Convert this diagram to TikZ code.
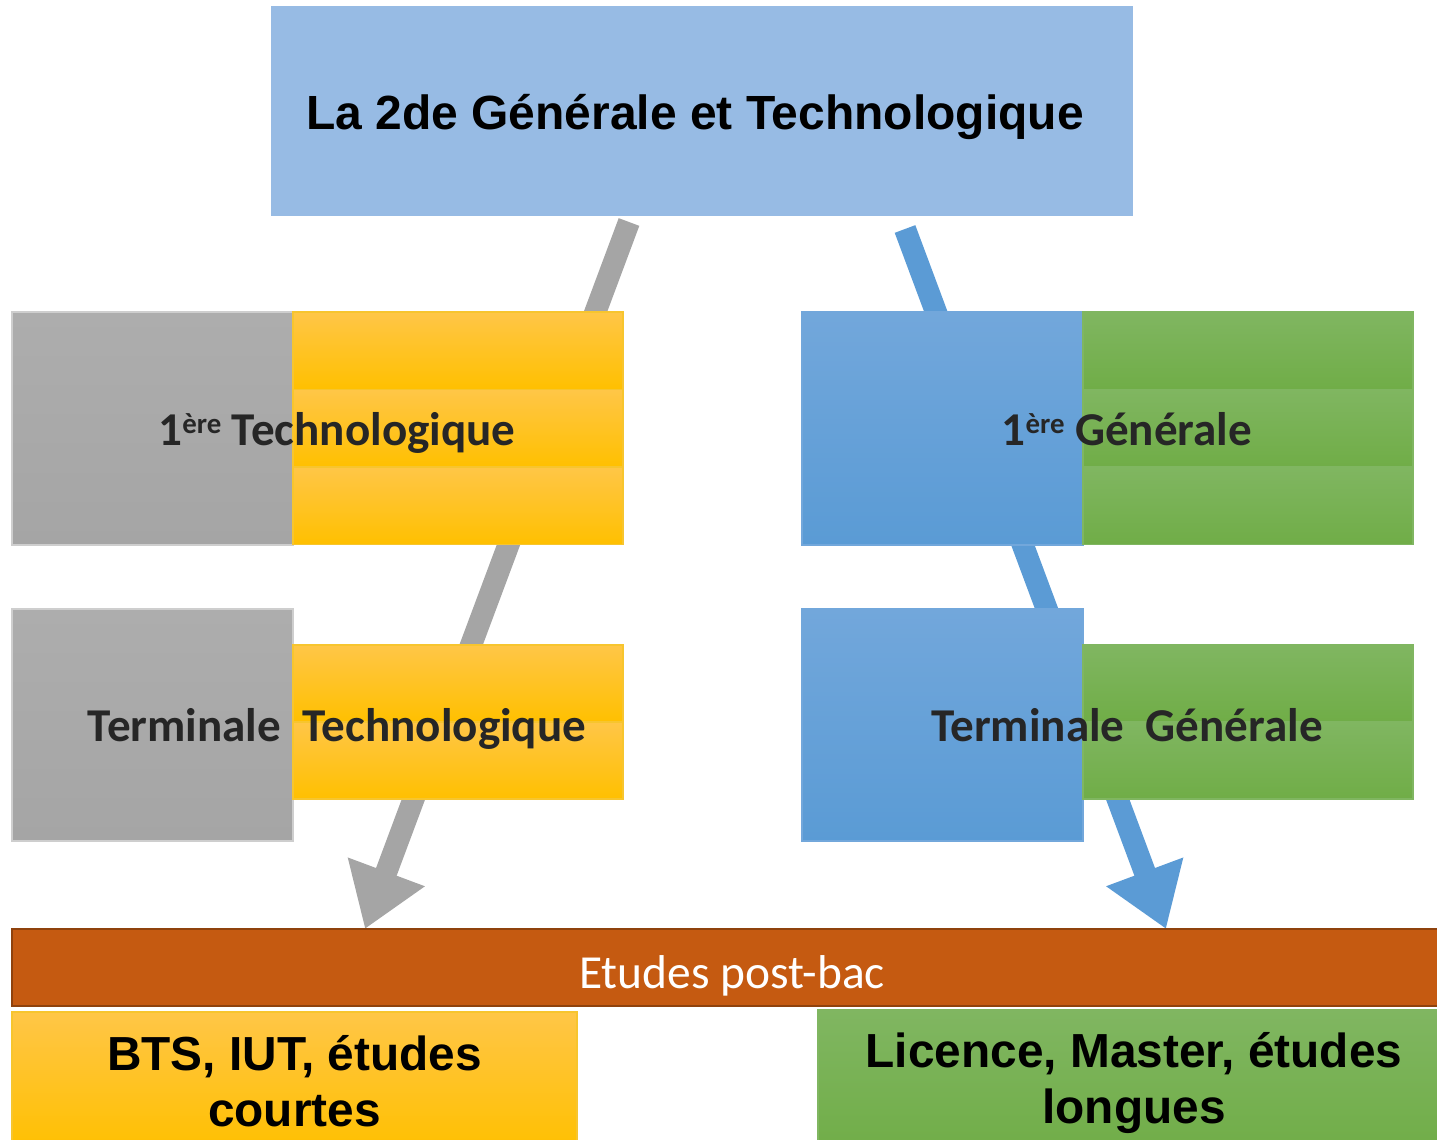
\documentclass[tikz,border=0pt]{standalone}
\usepackage{fontspec}
\setmainfont{Carlito}
\newfontfamily\arialfont{Liberation Sans}
\usepackage{xcolor}
\usepackage{tikz}
\usetikzlibrary{positioning,arrows.meta,backgrounds}

\definecolor{topblue}{HTML}{97BBE4}
\definecolor{graytop}{HTML}{ADADAD}
\definecolor{graybot}{HTML}{A5A5A5}
\definecolor{orangetop}{HTML}{FFC647}
\definecolor{orangebot}{HTML}{FFC000}
\definecolor{orangeline}{HTML}{F7C52E}
\definecolor{bluetop}{HTML}{72A7DB}
\definecolor{bluebot}{HTML}{5A9BD5}
\definecolor{greentop}{HTML}{80B661}
\definecolor{greenbot}{HTML}{70AD47}
\definecolor{barorange}{HTML}{C55A11}
\definecolor{bardark}{HTML}{8F420D}
\definecolor{arrowgray}{HTML}{A5A5A5}
\definecolor{arrowblue}{HTML}{5B9BD5}
\definecolor{textdark}{HTML}{262626}

\newcommand{\ere}{\raisebox{1.25mm}{\fontsize{8.2pt}{9pt}\selectfont ère}}

\begin{document}
\begin{tikzpicture}[x=0.1mm,y=-0.1mm,
box/.style={rectangle,inner sep=0pt,outer sep=0pt,anchor=north west},
yearbox/.style={box,minimum width=28.1mm,minimum height=23.3mm,line width=0.3pt},
band/.style={box,minimum width=33mm,minimum height=7.75mm,line width=0.3pt},
lbl/.style={anchor=base,text=textdark,font=\fontsize{13.4pt}{16pt}\selectfont\bfseries},
link/.style={line width=2.2mm,-{Triangle[length=6.1mm,width=7.8mm]}}]
\useasboundingbox (0,0) rectangle (1437,1140);

% la seconde
\node (seconde) [box,fill=topblue,minimum width=86.2mm,minimum height=21mm] at (271,6) {};
\node (secondelbl) [anchor=base,font=\arialfont\bfseries\fontsize{13.65pt}{16pt}\selectfont]
    at (695,130) {La 2de Générale et Technologique};

% voie technologique
\node (grayone) [yearbox,top color=graytop,bottom color=graybot,draw=graytop!60!white] at (12,312) {};
\node (techa) [band,top color=orangetop,bottom color=orangebot,draw=orangeline] at (grayone.north east) {};
\node (techb) [band,top color=orangetop,bottom color=orangebot,draw=orangeline,below=0pt of techa] {};
\node (techc) [band,top color=orangetop,bottom color=orangebot,draw=orangeline,below=0pt of techb] {};
\node (tech1lbl) [lbl] at (337,446) {1\ere{} Technologique};

\node (graytwo) [yearbox,minimum height=23.2mm,top color=graytop,bottom color=graybot,draw=graytop!60!white] at (12,609) {};
\node (techd) [band,minimum height=7.7mm,top color=orangetop,bottom color=orangebot,draw=orangeline] at (293,645) {};
\node (teche) [band,minimum height=7.7mm,top color=orangetop,bottom color=orangebot,draw=orangeline,below=0pt of techd] {};
\node (termtechlbl) [lbl] at (337,741) {Terminale\ \ Technologique};

% voie generale
\node (blueone) [yearbox,top color=bluetop,bottom color=bluebot,draw=bluetop] at (802,312) {};
\node (gena) [band,top color=greentop,bottom color=greenbot,draw=greentop] at (blueone.north east) {};
\node (genb) [band,top color=greentop,bottom color=greenbot,draw=greentop,below=0pt of gena] {};
\node (genc) [band,top color=greentop,bottom color=greenbot,draw=greentop,below=0pt of genb] {};
\node (gen1lbl) [lbl] at (1127,446) {1\ere{} Générale};

\node (bluetwo) [yearbox,minimum height=23.2mm,top color=bluetop,bottom color=bluebot,draw=bluetop] at (802,609) {};
\node (gend) [band,minimum height=7.7mm,top color=greentop,bottom color=greenbot,draw=greentop] at (1083,645) {};
\node (gene) [band,minimum height=7.7mm,top color=greentop,bottom color=greenbot,draw=greentop,below=0pt of gend] {};
\node (termgenlbl) [lbl] at (1127,741) {Terminale\ \ Générale};

% apres le bac
\node (postbac) [box,fill=barorange,draw=bardark,line width=0.8pt,
    minimum width=143mm,minimum height=7.7mm] at (12,929) {};
\node (postbaclbl) [anchor=base,text=white,font=\fontsize{13.5pt}{16pt}\selectfont]
    at (732,988) {Etudes post-bac};

\node (courtes) [box,top color=orangetop,bottom color=orangebot,draw=orangeline,line width=0.3pt,
    minimum width=56.5mm,minimum height=13.8mm,align=center,
    font=\arialfont\bfseries\fontsize{13.6pt}{15.9pt}\selectfont]
    at (12,1012) {BTS, IUT, études\\courtes};
\node (longues) [box,top color=greentop,bottom color=greenbot,draw=greentop,line width=0.3pt,
    minimum width=63.2mm,minimum height=14.6mm,align=center,
    font=\arialfont\bfseries\fontsize{13.6pt}{15.9pt}\selectfont]
    at (818,1010) {Licence, Master, études\\longues};

% fleches derriere les cases
\coordinate (techstart) at (629,222);
\coordinate (techend) at (365,0);
\coordinate (genstart) at (905,229);
\coordinate (genend) at (1166,0);
\begin{scope}[on background layer]
\draw[link,draw=arrowgray] (techstart) -- (techend |- postbac.north);
\draw[link,draw=arrowblue] (genstart) -- (genend |- postbac.north);
\end{scope}
\end{tikzpicture}
\end{document}
